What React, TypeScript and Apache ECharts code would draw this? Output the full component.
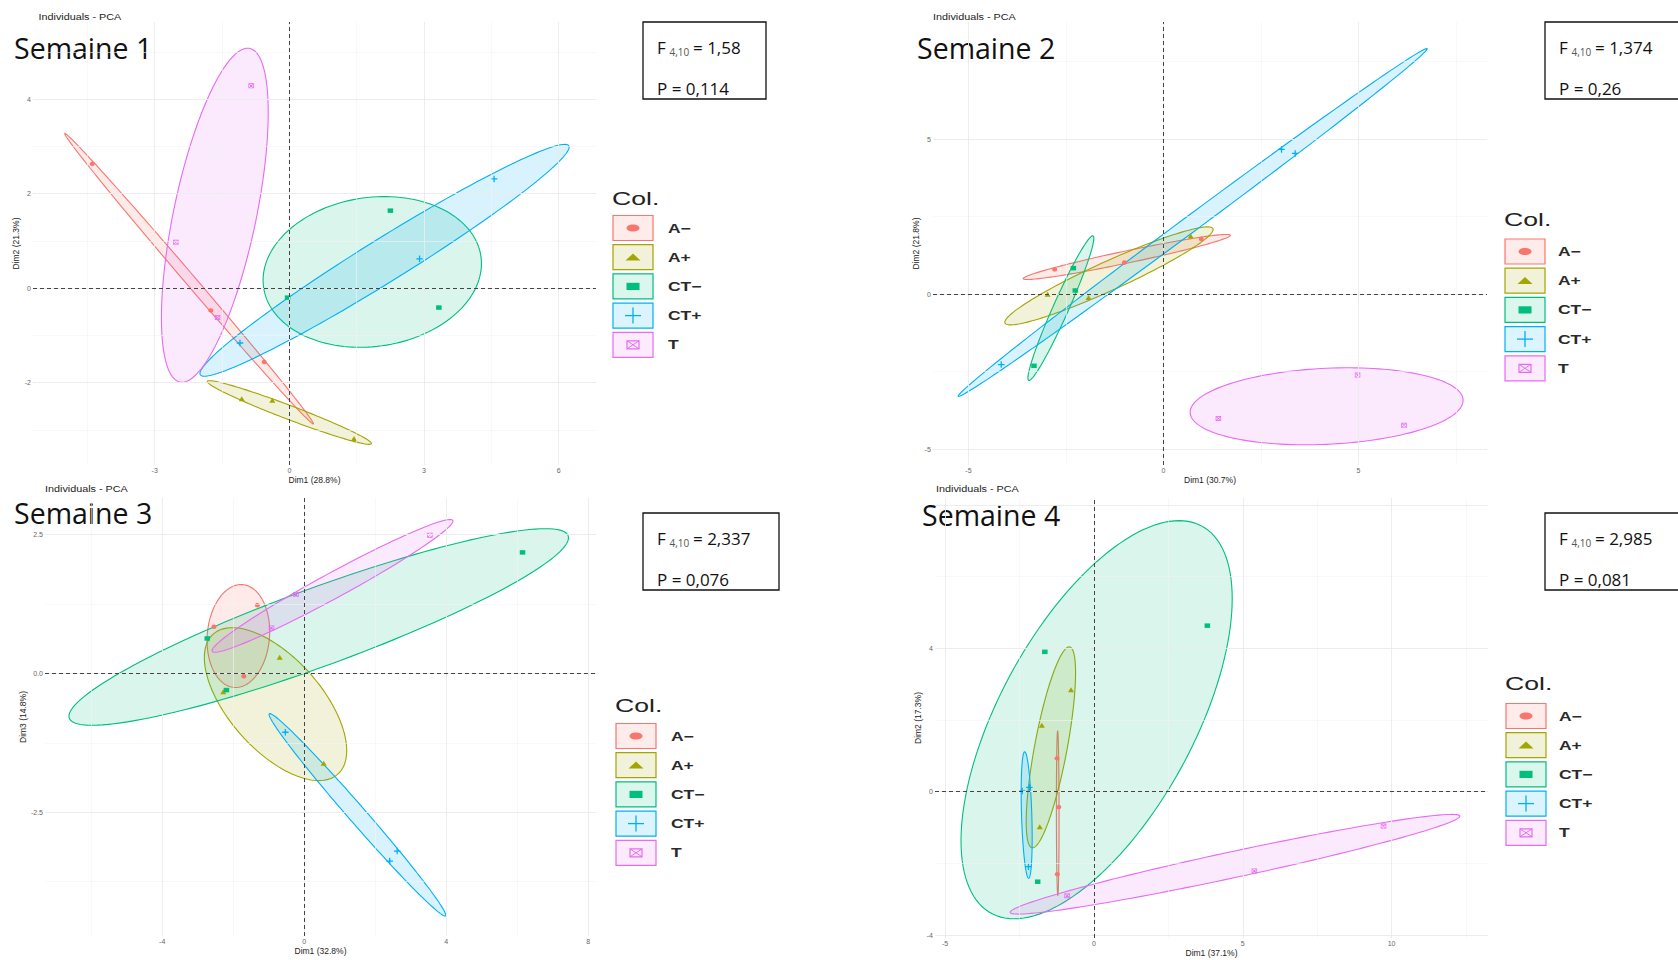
import React, { useEffect, useRef } from 'react';
import * as echarts from 'echarts';

// ---------- data ----------
const groupNames = ['A−', 'A+', 'CT−', 'CT+', 'T'];
const groupColors = ['#F8766D', '#A3A500', '#00BF7D', '#00B0F6', '#E76BF3'];
// group of each of the 15 individuals (3 per group)
const individualGroup = [0, 0, 0, 1, 1, 1, 2, 2, 2, 3, 3, 3, 4, 4, 4];

const week1Dim1 = [-4.39, -1.75, -0.56, -1.06, -0.38, 1.44, -0.04, 2.25, 3.33, -1.1, 2.9, 4.56, -0.85, -2.53, -1.6];
const week1Dim2 = [2.63, -0.47, -1.56, -2.34, -2.37, -3.18, -0.2, 1.64, -0.41, -1.16, 0.62, 2.31, 4.28, 0.97, -0.62];

const week2Dim1 = [-2.79, -1.0, 0.97, -2.97, -1.92, 0.7, -2.31, -2.26, -3.32, 3.03, 3.38, -4.16, 4.98, 1.41, 6.17];
const week2Dim2 = [0.8, 1.02, 1.78, 0.0, -0.11, 1.88, 0.84, 0.12, -2.31, 4.67, 4.54, -2.27, -2.61, -4.01, -4.23];

const week3Dim1 = [-1.32, -2.54, -1.7, -0.69, 0.55, -2.28, 6.15, -2.73, -2.19, -0.53, 2.62, 2.41, 3.54, -0.23, -0.92];
const week3Dim3 = [1.23, 0.84, -0.05, 0.29, -1.62, -0.33, 2.18, 0.63, -0.3, -1.06, -3.2, -3.38, 2.49, 1.42, 0.82];

const week4Dim1 = [-1.24, -1.18, -1.23, -0.77, -1.75, -1.82, 3.81, -1.65, -1.89, -2.17, -2.2, -2.41, 9.73, 5.39, -0.9];
const week4Dim2 = [0.93, -0.43, -2.3, 2.84, 1.85, -0.98, 4.63, 3.9, -2.51, 0.12, -2.09, 0.02, -0.96, -2.21, -2.9];

const weekTitles = ['Semaine 1', 'Semaine 2', 'Semaine 3', 'Semaine 4'];
const xAxisTitles = ['Dim1 (28.8%)', 'Dim1 (30.7%)', 'Dim1 (32.8%)', 'Dim1 (37.1%)'];
const yAxisTitles = ['Dim2 (21.3%)', 'Dim2 (21.8%)', 'Dim3 (14.8%)', 'Dim2 (17.3%)'];
const fValues = ['1,58', '1,374', '2,337', '2,985'];
const pValues = ['0,114', '0,26', '0,076', '0,081'];

const week1XTicks = [-3, 0, 3, 6];
const week1YTicks = [-2, 0, 2, 4];
const week2XTicks = [-5, 0, 5];
const week2YTicks = [-5, 0, 5];
const week3XTicks = [-4, 0, 4, 8];
const week3YTicks = [-2.5, 0, 2.5];
const week4XTicks = [-5, 0, 5, 10];
const week4YTicks = [-4, 0, 4];

// ---------- layout ----------
const SANS = '"Liberation Sans", Arial, sans-serif';
const TITLE_FONT = '"Open Sans", "Noto Sans", sans-serif';

const weeks = [
  { dimX: week1Dim1, dimY: week1Dim2, xTicks: week1XTicks, yTicks: week1YTicks, yDec: 0 },
  { dimX: week2Dim1, dimY: week2Dim2, xTicks: week2XTicks, yTicks: week2YTicks, yDec: 0 },
  { dimX: week3Dim1, dimY: week3Dim3, xTicks: week3XTicks, yTicks: week3YTicks, yDec: 1 },
  { dimX: week4Dim1, dimY: week4Dim2, xTicks: week4XTicks, yTicks: week4YTicks, yDec: 0 },
];

const layouts = [
  { left: 33, top: 22, width: 563, height: 443, xMin: -5.71, xMax: 6.83, yMin: -3.74, yMax: 5.63,
    sub: [38.5, 17], sem: [14, 48], box: [643, 22, 123], legend: [612, 198, 228, 668] },
  { left: 933, top: 22, width: 554, height: 443, xMin: -5.91, xMax: 8.3, yMin: -5.51, yMax: 8.78,
    sub: [933, 17], sem: [917, 48], box: [1545, 22, 170], legend: [1504, 219, 251.5, 1558] },
  { left: 45, top: 498, width: 551, height: 438, xMin: -7.3, xMax: 8.22, yMin: -4.73, yMax: 3.16,
    sub: [45, 489], sem: [14, 513], box: [643, 513, 136], legend: [615, 705, 736, 671] },
  { left: 935, top: 498, width: 553, height: 440, xMin: -5.34, xMax: 13.24, yMin: -4.08, yMax: 8.19,
    sub: [936, 489], sem: [922, 515], box: [1545, 513, 170], legend: [1505, 683, 716, 1559] },
];

const plusPath = 'path://M4,0H6V4H10V6H6V10H4V6H0V4H4Z';
const boxCrossPath =
  'path://M0,0H10V10H0Z M1.3,1.3V8.7H8.7V1.3Z M1.3,2.3L2.3,1.3L8.7,7.7L7.7,8.7Z M7.7,1.3L8.7,2.3L2.3,8.7L1.3,7.7Z';
const groupSymbols = ['circle', 'triangle', 'rect', plusPath, boxCrossPath];
const groupSymbolSizes = [[5, 4.5], [6, 5], [5.5, 4.5], [6.5, 6.5], [5.5, 5]];

function rgba(hex: string, a: number) {
  const n = parseInt(hex.slice(1), 16);
  return `rgba(${(n >> 16) & 255},${(n >> 8) & 255},${n & 255},${a})`;
}

// 95% confidence ellipse of the group barycentre (chi-square, 2 df)
const QCHISQ_95_2 = 5.991464547;
function confidenceEllipse(xs: number[], ys: number[]) {
  const n = xs.length;
  const mx = xs.reduce((s, v) => s + v, 0) / n;
  const my = ys.reduce((s, v) => s + v, 0) / n;
  let sxx = 0, syy = 0, sxy = 0;
  for (let i = 0; i < n; i++) {
    sxx += (xs[i] - mx) ** 2;
    syy += (ys[i] - my) ** 2;
    sxy += (xs[i] - mx) * (ys[i] - my);
  }
  sxx /= n - 1; syy /= n - 1; sxy /= n - 1;
  const r = Math.sqrt(QCHISQ_95_2 / n);
  const l11 = Math.sqrt(sxx);
  const l21 = l11 > 0 ? sxy / l11 : 0;
  const l22 = Math.sqrt(Math.max(syy - l21 * l21, 0));
  const ring: number[][] = [];
  for (let k = 0; k <= 144; k++) {
    const t = (2 * Math.PI * k) / 144;
    const c = Math.cos(t), s = Math.sin(t);
    ring.push([mx + r * l11 * c, my + r * (l21 * c + l22 * s)]);
  }
  return { center: [mx, my], ring };
}

function gridValues(ticks: number[], min: number, max: number) {
  const step = ticks[1] - ticks[0];
  const half = step / 2;
  const major: number[] = [];
  const minor: number[] = [];
  for (let v = ticks[0] - 2 * step; v <= max + 1e-9; v += half) {
    if (v <= min || v >= max) continue;
    const isMajor = Math.abs(Math.round((v - ticks[0]) / step) * step - (v - ticks[0])) < 1e-9;
    (isMajor ? major : minor).push(Math.round(v * 1000) / 1000);
  }
  return { major, minor };
}

function buildOption() {
  const grid: any[] = [];
  const xAxis: any[] = [];
  const yAxis: any[] = [];
  const series: any[] = [];
  const elements: any[] = [];

  weeks.forEach((w, p) => {
    const L = layouts[p];
    grid.push({ left: L.left, top: L.top, width: L.width, height: L.height, containLabel: false, outerBoundsMode: 'none' });
    const axisCommon = {
      type: 'value',
      gridIndex: p,
      nameLocation: 'middle',
      nameTextStyle: { fontSize: 8.5, color: '#222', fontFamily: SANS },
      axisLine: { show: false },
      splitLine: { show: false },
    };
    xAxis.push({
      ...axisCommon,
      min: L.xMin, max: L.xMax,
      name: xAxisTitles[p], nameGap: 10,
      axisTick: { show: true, customValues: w.xTicks, length: 2.5, lineStyle: { color: '#555', width: 0.8 } },
      axisLabel: { customValues: w.xTicks, fontSize: 7, color: '#666', margin: 2, formatter: (v: number) => String(v) },
    });
    yAxis.push({
      ...axisCommon,
      min: L.yMin, max: L.yMax,
      name: yAxisTitles[p], nameGap: 9,
      axisTick: { show: true, customValues: w.yTicks, length: 2.5, lineStyle: { color: '#555', width: 0.8 } },
      axisLabel: { customValues: w.yTicks, fontSize: 7, color: '#666', margin: 2, formatter: (v: number) => v.toFixed(w.yDec) },
    });

    // background grid lines (theme_minimal)
    const gx = gridValues(w.xTicks, L.xMin, L.xMax);
    const gy = gridValues(w.yTicks, L.yMin, L.yMax);
    const majorStyle = { color: '#ebebeb', width: 0.9, type: 'solid' };
    const minorStyle = { color: '#f4f4f4', width: 0.6, type: 'solid' };
    series.push({
      type: 'scatter', xAxisIndex: p, yAxisIndex: p, data: [], silent: true, z: 1,
      markLine: {
        silent: true, symbol: ['none', 'none'], label: { show: false }, animation: false,
        data: [
          ...gx.minor.map((v) => ({ xAxis: v, lineStyle: minorStyle })),
          ...gy.minor.map((v) => ({ yAxis: v, lineStyle: minorStyle })),
          ...gx.major.map((v) => ({ xAxis: v, lineStyle: majorStyle })),
          ...gy.major.map((v) => ({ yAxis: v, lineStyle: majorStyle })),
        ],
      },
    });

    // ellipses and points per group
    groupNames.forEach((g, gi) => {
      const idx = individualGroup.map((gg, i) => (gg === gi ? i : -1)).filter((i) => i >= 0);
      const xs = idx.map((i) => w.dimX[i]);
      const ys = idx.map((i) => w.dimY[i]);
      const ell = confidenceEllipse(xs, ys);
      const color = groupColors[gi];
      series.push({
        type: 'custom', name: g, xAxisIndex: p, yAxisIndex: p, silent: true, clip: true, z: 2,
        data: [ell.center],
        renderItem: (_params: any, api: any) => ({
          type: 'polygon',
          shape: { points: ell.ring.map((pt) => api.coord(pt)) },
          style: { fill: rgba(color, 0.15), stroke: color, lineWidth: 1.1 },
        }),
      });
      series.push({
        type: 'scatter', name: g, xAxisIndex: p, yAxisIndex: p, silent: true, z: 4,
        symbol: groupSymbols[gi], symbolSize: groupSymbolSizes[gi],
        itemStyle: { color, opacity: 1 },
        data: xs.map((x, i) => [x, ys[i]]),
      });
    });

    // dashed zero lines
    series.push({
      type: 'scatter', xAxisIndex: p, yAxisIndex: p, data: [], silent: true, z: 3,
      markLine: {
        silent: true, symbol: ['none', 'none'], label: { show: false }, animation: false,
        lineStyle: { color: '#444', width: 1, type: [4, 3] },
        data: [{ xAxis: 0 }, { yAxis: 0 }],
      },
    });

    // titles
    elements.push({
      type: 'text', x: L.sub[0], y: L.sub[1], scaleX: 1.2,
      style: { text: 'Individuals - PCA', font: `9px ${SANS}`, fill: '#222', verticalAlign: 'middle' },
    });
    elements.push({
      type: 'text', x: L.sem[0], y: L.sem[1],
      style: { text: weekTitles[p], font: `28.5px ${TITLE_FONT}`, fill: '#111', verticalAlign: 'middle' },
    });

    // F / P box
    const [bx, by, bw] = L.box;
    elements.push({
      type: 'rect', shape: { x: bx, y: by, width: bw, height: 77 },
      style: { fill: '#fff', stroke: '#111', lineWidth: 1.3 },
    });
    elements.push({
      type: 'text', x: bx + 14, y: by + 25.5,
      style: { text: 'F', font: `17px ${TITLE_FONT}`, fill: '#111', verticalAlign: 'middle' },
    });
    elements.push({
      type: 'text', x: bx + 26.5, y: by + 29.5,
      style: { text: '4,10', font: `10px ${TITLE_FONT}`, fill: '#555', verticalAlign: 'middle' },
    });
    elements.push({
      type: 'text', x: bx + 50, y: by + 25.5,
      style: { text: `= ${fValues[p]}`, font: `17px ${TITLE_FONT}`, fill: '#111', verticalAlign: 'middle' },
    });
    elements.push({
      type: 'text', x: bx + 14, y: by + 66.5,
      style: { text: `P = ${pValues[p]}`, font: `17px ${TITLE_FONT}`, fill: '#111', verticalAlign: 'middle' },
    });

    // legend
    const [lx, colY, row0, labelX] = L.legend;
    elements.push({
      type: 'text', x: lx, y: colY, scaleX: 1.4,
      style: { text: 'Col.', font: `19px ${SANS}`, fill: '#222', verticalAlign: 'middle' },
    });
    groupNames.forEach((g, gi) => {
      const cy = row0 + gi * 29.2;
      const cx = lx + 21;
      const color = groupColors[gi];
      elements.push({
        type: 'rect', shape: { x: lx + 1, y: cy - 12.5, width: 40, height: 25 },
        style: { fill: rgba(color, 0.14), stroke: color, lineWidth: 1.2 },
      });
      if (gi === 0) {
        elements.push({ type: 'ellipse', shape: { cx, cy, rx: 6.5, ry: 3.6 }, style: { fill: color } });
      } else if (gi === 1) {
        elements.push({ type: 'polygon', shape: { points: [[cx - 7.5, cy + 3.3], [cx + 7.5, cy + 3.3], [cx, cy - 3.6]] }, style: { fill: color } });
      } else if (gi === 2) {
        elements.push({ type: 'rect', shape: { x: cx - 6.5, y: cy - 3.6, width: 13, height: 7.2 }, style: { fill: color } });
      } else if (gi === 3) {
        elements.push({ type: 'line', shape: { x1: cx - 8, y1: cy, x2: cx + 8, y2: cy }, style: { stroke: color, lineWidth: 1.3 } });
        elements.push({ type: 'line', shape: { x1: cx, y1: cy - 8, x2: cx, y2: cy + 8 }, style: { stroke: color, lineWidth: 1.3 } });
      } else {
        elements.push({ type: 'rect', shape: { x: cx - 6, y: cy - 4, width: 12, height: 8 }, style: { fill: 'none', stroke: color, lineWidth: 1.2 } });
        elements.push({ type: 'line', shape: { x1: cx - 6, y1: cy - 4, x2: cx + 6, y2: cy + 4 }, style: { stroke: color, lineWidth: 1 } });
        elements.push({ type: 'line', shape: { x1: cx + 6, y1: cy - 4, x2: cx - 6, y2: cy + 4 }, style: { stroke: color, lineWidth: 1 } });
      }
      elements.push({
        type: 'text', x: labelX, y: cy, scaleX: 1.4,
        style: { text: g, font: `bold 12.5px ${SANS}`, fill: '#2a2a2a', verticalAlign: 'middle' },
      });
    });
  });

  return {
    animation: false,
    backgroundColor: '#ffffff',
    textStyle: { fontFamily: SANS },
    grid, xAxis, yAxis, series,
    graphic: { elements },
  };
}

export default function App() {
  const ref = useRef<HTMLDivElement>(null);
  useEffect(() => {
    if (!ref.current) return;
    const chart = echarts.init(ref.current, null, { renderer: 'svg' });
    chart.setOption(buildOption() as any);
    return () => chart.dispose();
  }, []);
  return (
    <div
      ref={ref}
      style={{ position: 'absolute', left: 0, top: 0, width: 1678, height: 960, background: '#fff' }}
    />
  );
}
